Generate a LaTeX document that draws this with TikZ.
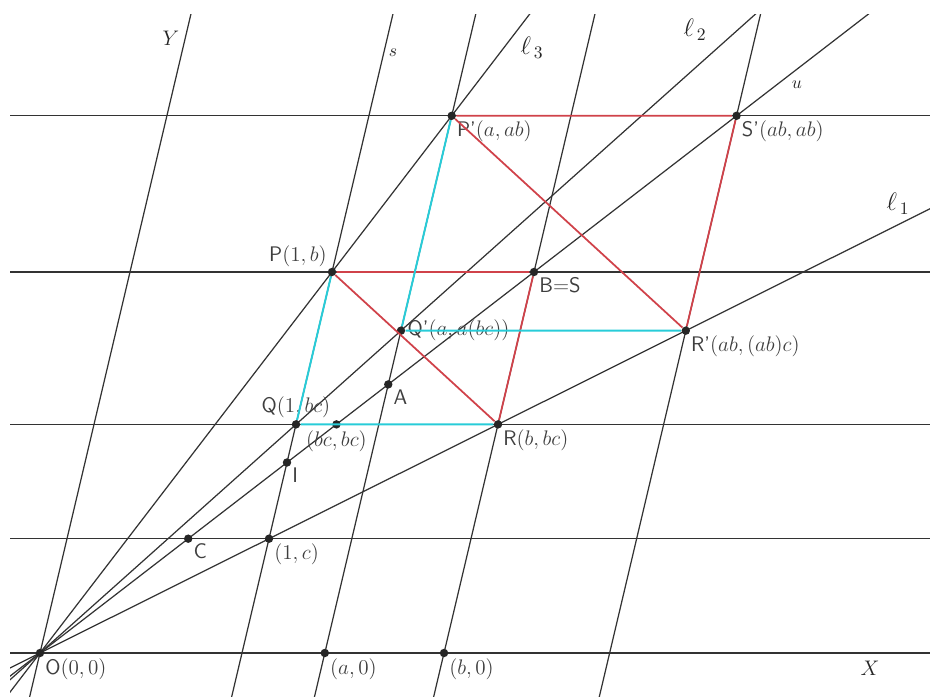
\documentclass[tikz,border=0pt]{standalone}
\usetikzlibrary{calc}
\definecolor{geored}{RGB}{208,66,74}
\definecolor{geocyan}{RGB}{40,204,216}
\definecolor{labelgray}{RGB}{62,62,62}

\begin{document}
\begin{tikzpicture}[
        gridline/.style={draw=black!80, line width=0.7pt},
        redside/.style={draw=geored, line width=1pt},
        cyanside/.style={draw=geocyan, line width=1.1pt},
        pt/.style={circle, fill=black!85, inner sep=0pt, minimum size=4.8pt},
        every label/.style={text=labelgray, font=\large, inner sep=1pt},
        label distance=0pt,
        linename/.style={text=black!85, inner sep=0pt},
        oblique/.style={shift={(0.8,0.86)}, x={(4.04cm,0cm)}, y={(0.9cm,3.81cm)}},
    ]
    \useasboundingbox (0,0) rectangle (18.6,13.92);
    % the lines of the figure, cut off at the frame
    \begin{scope}
    \clip (0.2,0) rectangle (18.6,13.62);
    \begin{scope}[oblique]
    \foreach \h in {0,0.6,1.2,2,2.82}
        \draw[gridline] (-1,\h) -- (5,\h);
    \foreach \v in {0,1,1.41,2,2.82}
        \draw[gridline] (\v,-1) -- (\v,4);
    \foreach \m in {0.6,1,1.2,2}
        \draw[gridline] (-1,-\m) -- (5,5*\m);
    \end{scope}
    \end{scope}
    % points
    \begin{scope}[oblique]
    \node[pt, label={below right:\textsf{O}$(0,0)$}] (O) at (0,0) {};
    \node[pt, label={below right:$(a,0)$}] (Xa) at (1.41,0) {};
    \node[pt, label={below right:$(b,0)$}] (Xb) at (2,0) {};
    \node[pt, label={below right:\textsf{C}}] (C) at (0.6,0.6) {};
    \node[pt, label={below right:$(1,c)$}] (Ic) at (1,0.6) {};
    \node[pt, label={below right:\textsf{I}}] (I) at (1,1) {};
    \node[pt, label={above:\textsf{Q}$(1,bc)$}] (Q) at (1,1.2) {};
    \node[pt, label={below:$(bc,bc)$}] (BC) at (1.2,1.2) {};
    \node[pt, label={below right:\textsf{R}$(b,bc)$}] (R) at (2,1.2) {};
    \node[pt, label={below right:\textsf{A}}] (A) at (1.41,1.41) {};
    \node[pt, label={right:\textsf{Q'}$(a,a(bc))$}] (Qp) at (1.41,1.692) {};
    \node[pt, label={above left:\textsf{P}$(1,b)$}] (P) at (1,2) {};
    \node[pt, label={below right:\textsf{B=S}}] (B) at (2,2) {};
    \node[pt, label={below right:\textsf{R'}$(ab,(ab)c)$}] (Rp) at (2.82,1.692) {};
    \node[pt, label={below right:\textsf{P'}$(a,ab)$}] (Pp) at (1.41,2.82) {};
    \node[pt, label={below right:\textsf{S'}$(ab,ab)$}] (Sp) at (2.82,2.82) {};
    \end{scope}
    % coloured triangles
    \draw[redside] (P) -- (B) -- (R) -- (P);
    \draw[redside] (Pp) -- (Sp) -- (Rp) -- (Pp);
    \draw[cyanside] (P) -- (Q) -- (R);
    \draw[cyanside] (Pp) -- (Qp) -- (Rp);
    % names of the lines
    \node[linename, font=\large] (nameY) at (3.42,13.16) {$Y$};
    \node[linename] (names) at (7.86,12.86) {$s$};
    \node[linename, font=\Large] (namel3) at (10.64,12.96) {$\ell_{\,3}$};
    \node[linename, font=\Large] (namel2) at (13.9,13.32) {$\ell_{\,2}$};
    \node[linename] (nameu) at (15.94,12.22) {$u$};
    \node[linename, font=\Large] (namel1) at (17.96,9.84) {$\ell_{\,1}$};
    \node[linename, font=\large] (nameX) at (17.4,0.56) {$X$};
\end{tikzpicture}
\end{document}
